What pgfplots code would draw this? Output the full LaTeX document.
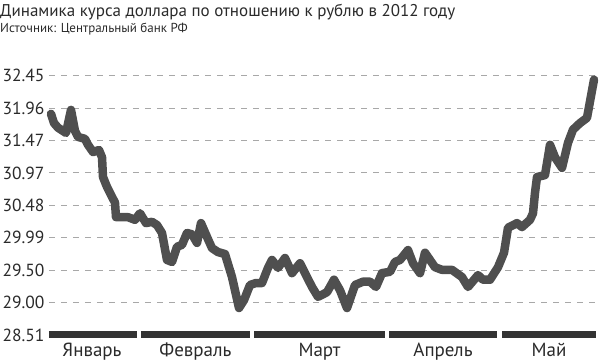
\documentclass[border=0pt]{standalone}
\usepackage{pgfplots}
\pgfplotsset{compat=1.18}
\usepackage{fontspec}
\setmainfont{PT Sans}
\definecolor{linec}{HTML}{4F4F4F}
\definecolor{barc}{HTML}{333333}
\definecolor{txt}{HTML}{2A2A2A}
\definecolor{gridc}{HTML}{A8A8A8}
\begin{document}
\begin{tikzpicture}
\path[use as bounding box] (-49pt,-28pt) rectangle (551pt,335pt);
\begin{axis}[
  scale only axis, width=547pt, height=259.3pt,
  xmin=49, xmax=596, ymin=28.51, ymax=32.45,
  clip=false,
  axis line style={draw=none},
  major tick length=0pt,
  ytick={29.0025,29.495,29.9875,30.48,30.9725,31.465,31.9575,32.45},
  yticklabels={29.00,29.50,29.99,30.48,30.97,31.47,31.96,32.45},
  extra y ticks={28.51}, extra y tick labels={28.51},
  extra y tick style={grid=none},
  ymajorgrids,
  grid style={gridc, line width=1pt, dash pattern=on 6pt off 6pt},
  yticklabel style={font=\fontsize{17.5}{17.5}\selectfont, text=txt, anchor=east, xshift=-1pt},
  xtick={92,195.5,319.5,443,549},
  xticklabels={Январь,Февраль,Март,Апрель,Май},
  xticklabel style={font=\fontsize{19}{19}\selectfont, text=txt, anchor=base, yshift=-22pt},
]
\addplot[barc, line width=7pt] coordinates {(49,28.51) (137,28.51)};
\addplot[barc, line width=7pt] coordinates {(141,28.51) (250,28.51)};
\addplot[barc, line width=7pt] coordinates {(254,28.51) (385,28.51)};
\addplot[barc, line width=7pt] coordinates {(389,28.51) (497,28.51)};
\addplot[barc, line width=7pt] coordinates {(502,28.51) (596,28.51)};
\addplot[linec, line width=8.5pt, line join=round, line cap=round] coordinates {
(51,31.87) (54,31.73) (58,31.66) (66,31.58) (71,31.93) (75,31.61) (78,31.52)
(85,31.49) (88,31.40) (93,31.29) (99,31.32) (102,31.21) (103,30.91) (107,30.76)
(112,30.61) (115,30.52) (116,30.30) (122,30.30) (128,30.30) (135,30.26) (140,30.36)
(146,30.21) (152,30.23) (157,30.18) (162,30.06) (167,29.65) (172,29.62) (177,29.85)
(182,29.88) (187,30.06) (192,30.04) (197,29.91) (201,30.21) (207,30.00) (212,29.83)
(218,29.77) (225,29.74) (232,29.39) (239,28.92) (244,29.04) (250,29.27) (256,29.30)
(262,29.30) (268,29.53) (272,29.65) (278,29.53) (285,29.68) (292,29.45) (300,29.60)
(305,29.45) (312,29.24) (318,29.09) (327,29.16) (334,29.35) (340,29.19) (347,28.92)
(355,29.27) (363,29.32) (370,29.32) (376,29.24) (382,29.45) (390,29.47) (395,29.62)
(400,29.65) (408,29.80) (413,29.60) (420,29.45) (425,29.76) (435,29.54) (442,29.50)
(452,29.50) (462,29.39) (468,29.24) (478,29.42) (483,29.35) (490,29.35) (498,29.54)
(504,29.76) (508,30.14) (517,30.21) (522,30.15) (530,30.26) (533,30.36) (535,30.67)
(537,30.91) (545,30.94) (550,31.40) (555,31.21) (562,31.05) (568,31.43) (573,31.63)
(580,31.73) (587,31.81) (594,32.39)
};
\end{axis}
\node[anchor=base west, inner sep=0pt, text=txt, font=\fontsize{17}{17}\selectfont] at (-49pt,318pt) {Динамика курса доллара по отношению к рублю в 2012 году};
\node[anchor=base west, inner sep=0pt, text=txt, font=\fontsize{13}{13}\selectfont] at (-49pt,302pt) {Источник: Центральный банк РФ};
\end{tikzpicture}
\end{document}
